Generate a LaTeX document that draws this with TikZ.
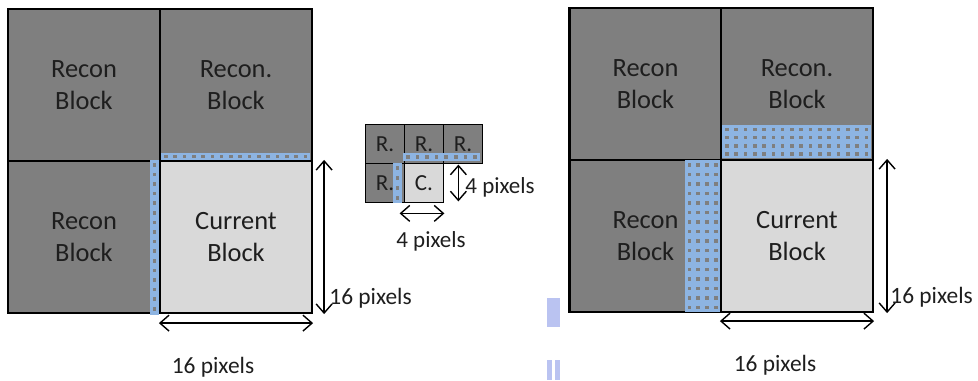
\documentclass[tikz,border=0pt]{standalone}
\usepackage{fontspec}
\setmainfont{Carlito}
\usetikzlibrary{arrows.meta,positioning}
\definecolor{BlkDark}{HTML}{7F7F7F}
\definecolor{BlkLight}{HTML}{D9D9D9}
\definecolor{PixBlue}{HTML}{8DB4E2}
\definecolor{PixDot}{HTML}{7F7F7F}
\definecolor{SmudgeBlue}{HTML}{A9B4EE}
\definecolor{TxtDark}{HTML}{1E1E1E}

\begin{document}
\begin{tikzpicture}[x=0.5pt,y=-0.5pt,
    recon/.style={draw=black,line width=1.1pt,fill=BlkDark,inner sep=0pt,
      minimum width=76pt,minimum height=76pt,align=center,text=TxtDark,
      font=\fontsize{13.2}{15.8}\selectfont},
    current/.style={recon,fill=BlkLight},
    small/.style={draw=black,line width=0.9pt,fill=BlkDark,inner sep=0pt,text=TxtDark,
      minimum width=19.5pt,minimum height=19.5pt,font=\fontsize{11.5}{13}\selectfont},
    dim/.style={{Straight Barb[length=1.6mm,width=2.8mm]}-{Straight Barb[length=1.6mm,width=2.8mm]},line width=0.7pt},
    lbl/.style={inner sep=0pt,text=TxtDark,font=\fontsize{11.7}{14}\selectfont},
    lblsmall/.style={inner sep=0pt,text=TxtDark,font=\fontsize{11.5}{13.8}\selectfont}]
    \useasboundingbox (0,0) rectangle (978,380);

    % left: one row / column of neighbour pixels
    \node[recon] (ltl) at (84,85) {Recon\\Block};
    \node[recon] (ltr) at (236,85) {Recon.\\Block};
    \node[recon] (lbl) at (84,237) {Recon\\Block};
    \node[current] (lcur) at (236,237) {Current\\Block};
    \fill[PixBlue] (161,153) rectangle (310,160);
    \foreach \i in {0,...,15}
      \fill[PixDot] ({161+9.3*\i+3},154.8) rectangle ++(3.6,3.6);
    \fill[PixBlue] (150,160) rectangle (159,315);
    \foreach \j in {0,...,15}
      \fill[PixDot] (152.7,{160+9.6*\j+3}) rectangle ++(3.6,3.6);
    \draw[dim] ([yshift=-4.5pt]lcur.south west) -- ([yshift=-4.5pt]lcur.south east);
    \draw[dim] ([xshift=5.5pt]lcur.north east) -- ([xshift=5.5pt]lcur.south east);
    \node[lbl] (lw) at (213,367) {16 pixels};
    \node[lbl,anchor=west] (lh) at (329,298) {16 pixels};

    % middle: 4x4 example
    \node[small] (m1) at (385,144) {R.};
    \node[small] (m2) at (424,144) {R.};
    \node[small] (m3) at (463,144) {R.};
    \node[small] (m4) at (385,183) {R.};
    \node[small,fill=BlkLight] (mc) at (424,183) {C.};
    \fill[PixBlue] (403,153) rectangle (480,161);
    \foreach \i in {0,...,7}
      \fill[PixDot] ({403+9.6*\i+3},155.2) rectangle ++(3.6,3.6);
    \fill[PixBlue] (393,163) rectangle (402,203);
    \foreach \j in {0,...,3}
      \fill[PixDot] (395.7,{163+10*\j+3}) rectangle ++(3.6,3.6);
    \draw[dim] ([xshift=7pt,yshift=-1pt]mc.north east) -- ([xshift=7pt,yshift=1pt]mc.south east);
    \draw[dim] ([xshift=-2pt,yshift=-5pt]mc.south west) -- ([yshift=-5pt]mc.south east);
    \node[lblsmall,anchor=west] (mh) at (465,187) {4 pixels};
    \node[lblsmall] (mw) at (431,241) {4 pixels};

    % stray marks between the figures
    \fill[SmudgeBlue,opacity=0.8] (547,298) rectangle (560,327);
    \fill[SmudgeBlue,opacity=0.8] (547,360) rectangle (552,380);
    \fill[SmudgeBlue,opacity=0.8] (555,360) rectangle (560,380);

    % right: four rows / columns of neighbour pixels
    \node[recon] (rtl) at (645.5,84) {Recon\\Block};
    \node[recon] (rtr) at (797,84) {Recon.\\Block};
    \node[recon] (rbl) at (645.5,236) {Recon\\Block};
    \node[current] (rcur) at (797,236) {Current\\Block};
    \fill[PixBlue] (722,125) rectangle (871,158);
    \foreach \i in {0,...,15}
      \foreach \j in {0,...,3}
        \fill[PixDot] ({722+9.3*\i+3},{125+8.3*\j+2.5}) rectangle ++(3.6,3.6);
    \fill[PixBlue] (685,160) rectangle (720,312);
    \foreach \i in {0,...,3}
      \foreach \j in {0,...,15}
        \fill[PixDot] ({685+8.8*\i+2.6},{160+9.5*\j+3}) rectangle ++(3.6,3.6);
    \draw[dim] ([yshift=-4pt]rcur.south west) -- ([yshift=-4pt]rcur.south east);
    \draw[dim] ([xshift=6.5pt]rcur.north east) -- ([xshift=6.5pt]rcur.south east);
    \node[lbl] (rw) at (775,365) {16 pixels};
    \node[lbl,anchor=west] (rh) at (890,297) {16 pixels};
  \end{tikzpicture}
\end{document}
